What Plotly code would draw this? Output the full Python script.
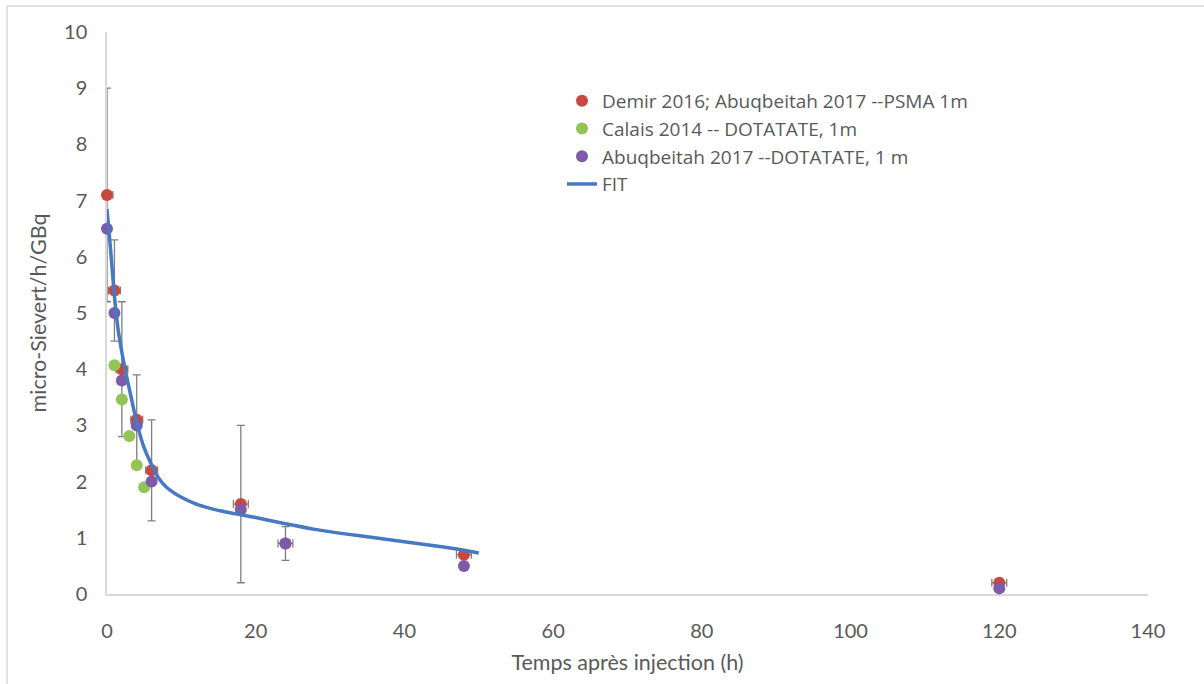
import plotly.graph_objects as go

# ---- data ----
psma_t = [0, 1, 2, 4, 6, 18, 24, 48, 120]
psma_v = [7.1, 5.4, 4.0, 3.1, 2.2, 1.6, 0.9, 0.7, 0.2]
psma_err_y = [1.9, 0.9, 1.2, 0.8, 0.9, 1.4, 0.3, 0.05, 0.05]
psma_err_x = [0.8, 0.8, 0.8, 0.8, 0.8, 1.0, 1.0, 1.0, 1.0]

calais_t = [1, 2, 3, 4, 5]
calais_v = [4.07, 3.46, 2.81, 2.29, 1.9]

abuq_t = [0, 1, 2, 4, 6, 18, 24, 48, 120]
abuq_v = [6.5, 5.0, 3.8, 3.0, 2.0, 1.5, 0.9, 0.5, 0.1]

fit_t = [0, 0.5, 1, 1.5, 2, 2.5, 3, 4, 5, 6, 7, 8, 10, 12, 14, 16, 18, 20, 24, 28, 32, 36, 40, 44, 48, 50]
fit_v = [6.85, 6.1, 5.3, 4.7, 4.3, 3.95, 3.65, 3.05, 2.6, 2.3, 2.05, 1.9, 1.72, 1.6, 1.52, 1.46, 1.41,
         1.36, 1.25, 1.15, 1.07, 1.0, 0.93, 0.86, 0.78, 0.73]

names = ["Demir 2016; Abuqbeitah 2017 --PSMA 1m",
         "Calais 2014 -- DOTATATE, 1m",
         "Abuqbeitah 2017 --DOTATATE, 1 m",
         "FIT"]

x_ticks = [0, 20, 40, 60, 80, 100, 120, 140]
y_ticks = [0, 1, 2, 3, 4, 5, 6, 7, 8, 9, 10]

RED = "#C9473D"
GREEN = "#94C356"
PURPLE = "#7E5BA8"
BLUE = "#4579C2"
ERR = "#7f7f7f"
FONT = "Lato, Liberation Sans, sans-serif"
LFONT = "Open Sans, Lato, sans-serif"

fig = go.Figure()
fig.add_trace(go.Scatter(
    x=psma_t, y=psma_v, mode="markers", name=names[0],
    marker=dict(color=RED, size=12),
    error_y=dict(type="data", array=psma_err_y, color=ERR, thickness=1.3, width=4),
    error_x=dict(type="data", array=psma_err_x, color=ERR, thickness=1.3, width=4),
    cliponaxis=False))
fig.add_trace(go.Scatter(
    x=calais_t, y=calais_v, mode="markers", name=names[1],
    marker=dict(color=GREEN, size=12), cliponaxis=False))
fig.add_trace(go.Scatter(
    x=abuq_t, y=abuq_v, mode="markers", name=names[2],
    marker=dict(color=PURPLE, size=12), cliponaxis=False))
fig.add_trace(go.Scatter(
    x=fit_t, y=fit_v, mode="lines", name=names[3],
    line=dict(color=BLUE, width=3.5, shape="spline", smoothing=0.6), cliponaxis=False))

L, R, T, B = 107, 56, 32, 90
W, H = 1204, 684
pw, ph = W - L - R, H - T - B

def px(x):
    return (x - L) / pw

def py(y):
    return (H - B - y) / ph

fig.update_layout(
    width=W, height=H,
    margin=dict(l=L, r=R, t=T, b=B),
    paper_bgcolor="white", plot_bgcolor="white",
    font=dict(family=FONT, color="#595959", size=20),
    showlegend=True,
    legend=dict(x=px(562), y=py(82), xanchor="left", yanchor="top",
                font=dict(size=19, color="#595959", family=LFONT),
                bgcolor="rgba(0,0,0,0)", itemwidth=30),
    xaxis=dict(range=[0, 140], tickvals=x_ticks, ticktext=[str(v) for v in x_ticks],
               showgrid=False, zeroline=False, showline=True, linecolor="#d9d9d9", linewidth=1.5,
               ticks="", layer="below traces", ticklabelstandoff=18,
               tickfont=dict(size=20, color="#595959"),
               title=dict(text="Temps après injection (h)", standoff=14,
                          font=dict(size=21.5, color="#595959"))),
    yaxis=dict(range=[0, 10], tickvals=y_ticks, ticktext=[str(v) for v in y_ticks],
               showgrid=False, zeroline=False, showline=True, linecolor="#d9d9d9", linewidth=1.5,
               ticks="", layer="below traces", ticklabelstandoff=14,
               tickfont=dict(size=20, color="#595959"),
               title=dict(text="micro-Sievert/h/GBq", standoff=12,
                          font=dict(size=21.5, color="#595959"))),
)

# outer chart border (top and left)
fig.add_shape(type="line", xref="paper", yref="paper",
              x0=px(7), x1=px(1204), y0=py(6), y1=py(6),
              line=dict(color="#d9d9d9", width=1.5))
fig.add_shape(type="line", xref="paper", yref="paper",
              x0=px(7), x1=px(7), y0=py(6), y1=py(684),
              line=dict(color="#d9d9d9", width=1.5))

fig.write_html("out.html")
